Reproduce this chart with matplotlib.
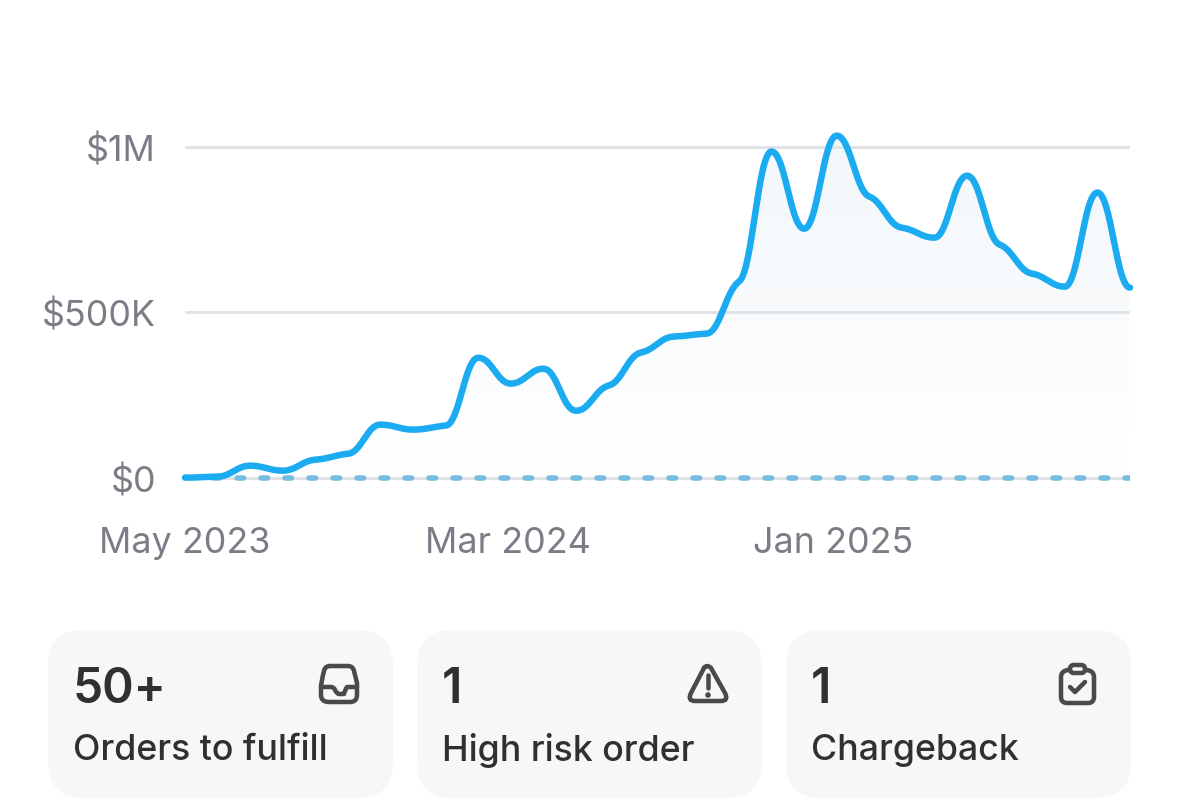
import numpy as np
import matplotlib
matplotlib.use("Agg")
import matplotlib.pyplot as plt
from matplotlib.patches import FancyBboxPatch, PathPatch, Circle
from matplotlib.path import Path
from matplotlib.transforms import ScaledTranslation

# --- data ---
# revenue per month in $K, May 2023 to Oct 2025
revenue = [0, 3, 36, 21, 54, 72, 160, 145, 157, 362,
           284, 329, 202, 278, 378, 426, 435, 592, 985, 752,
           1033, 849, 755, 725, 912, 704, 616, 577, 861, 574]
y_ticks = [0, 500, 1000]
y_labels = ["$0", "$500K", "$1M"]
x_ticks = [0, 10, 20]
x_labels = ["May 2023", "Mar 2024", "Jan 2025"]
card_values = ["50+", "1", "1"]
card_names = ["Orders to fulfill", "High risk order", "Chargeback"]

W, H = 1179, 812
BLUE = "#1aabf0"
GREY_TEXT = "#7c7c86"
DARK_TEXT = "#303030"
ICON = "#4a4a4a"
PX = 0.72  # one pixel in points at dpi 100

plt.rcParams["font.family"] = ["Inter", "DejaVu Sans"]


def smooth_curve(y, tension=0.3, handle=0.42, per_segment=60):
    """Bezier through the points with damped tangents, wide tops and flat shoulders."""
    y = np.asarray(y, dtype=float)
    delta = np.diff(y)
    m = np.zeros_like(y)
    for i in range(1, len(y) - 1):
        if delta[i - 1] * delta[i] > 0:
            m[i] = tension * 2 * delta[i - 1] * delta[i] / (delta[i - 1] + delta[i])
    xs, ys = [], []
    t = np.linspace(0, 1, per_segment, endpoint=False)
    b0, b1, b2, b3 = (1 - t)**3, 3 * t * (1 - t)**2, 3 * t**2 * (1 - t), t**3
    for i in range(len(y) - 1):
        xs.append(b0 * i + b1 * (i + handle) + b2 * (i + 1 - handle) + b3 * (i + 1))
        ys.append(b0 * y[i] + b1 * (y[i] + m[i] * handle)
                  + b2 * (y[i + 1] - m[i + 1] * handle) + b3 * y[i + 1])
    return np.append(np.concatenate(xs), len(y) - 1), np.append(np.concatenate(ys), y[-1])


def stroke(ax, verts, codes=None, lw=4.5):
    path = Path(verts, codes) if codes else Path(verts)
    ax.add_patch(PathPatch(path, fill=False, edgecolor=ICON, lw=lw * PX,
                           capstyle="round", joinstyle="round"))


def draw_inbox(ax):
    C3, L, M = Path.CURVE3, Path.LINETO, Path.MOVETO
    stroke(ax, [(330, 667), (348, 667), (353, 667), (354, 672), (357, 684), (357, 688),
                (357, 696), (357, 703), (350, 703), (329, 703), (321, 703), (321, 696),
                (321, 688), (321, 684), (324, 672), (325, 667), (330, 667)],
           [M, L, C3, C3, L, C3, L, C3, C3, L, C3, C3, L, C3, L, C3, C3])
    stroke(ax, [(321, 688), (331, 688), (334, 688), (335, 691), (337, 695), (339, 695),
                (341, 695), (344, 695), (345, 691), (347, 688), (357, 688)],
           [M, L, C3, C3, C3, C3, C3, C3, C3, C3, L])


def draw_warning(ax):
    C3, L, M = Path.CURVE3, Path.LINETO, Path.MOVETO
    stroke(ax, [(704, 669), (707, 665), (711, 669), (725, 694), (729, 702), (721, 702),
                (695, 702), (687, 702), (691, 694), (704, 669)],
           [M, C3, C3, L, C3, C3, L, C3, C3, L])
    stroke(ax, [(708, 676), (708, 689)])
    ax.add_patch(Circle((708, 696), 2.8, color=ICON, lw=0))


def draw_clipboard(ax):
    C3, L, M = Path.CURVE3, Path.LINETO, Path.MOVETO
    stroke(ax, [(1068, 671), (1061, 672), (1061, 678), (1061, 698), (1061, 704), (1067, 704),
                (1088, 704), (1094, 704), (1094, 698), (1094, 678), (1094, 672), (1087, 671)],
           [M, C3, C3, L, C3, C3, L, C3, C3, L, C3, C3])
    ax.add_patch(FancyBboxPatch((1070, 666), 15, 8, boxstyle="round,pad=0,rounding_size=4",
                                fill=False, edgecolor=ICON, lw=4.5 * PX))
    stroke(ax, [(1070, 688), (1075, 693), (1085, 683)])


def plot_dashboard():
    fig = plt.figure(figsize=(W / 100, H / 100), dpi=100, facecolor="white")

    # overlay in pixel coordinates for the cards
    bg = fig.add_axes([0, 0, 1, 1])
    bg.set_xlim(0, W)
    bg.set_ylim(H, 0)
    bg.axis("off")

    card_left = [48, 417, 786]
    for left, value, name in zip(card_left, card_values, card_names):
        bg.add_patch(FancyBboxPatch((left, 631), 345, 168,
                                    boxstyle="round,pad=0,rounding_size=36",
                                    facecolor="#f7f7f8", edgecolor="none"))
        bg.text(left + 25, 690, value, fontsize=34.5, fontweight="semibold",
                color=DARK_TEXT, va="center", ha="left")
        bg.text(left + 25, 751, name, fontsize=25.7, fontweight="medium",
                color=DARK_TEXT, va="center", ha="left")
    draw_inbox(bg)
    draw_warning(bg)
    draw_clipboard(bg)

    # chart area, $0 sits at y=478 and $1M at y=147
    top_px, bottom_px = 100, 520
    zero_px = 478.6
    k_per_px = 1000 / 331
    ax = fig.add_axes([185 / W, 1 - bottom_px / H, (1130 - 185) / W, (bottom_px - top_px) / H])
    ax.patch.set_alpha(0)
    for s in ax.spines.values():
        s.set_visible(False)

    xs, ys = smooth_curve(revenue)

    ax.hlines([500, 1000], 0, 29, color="#e2e3e8", lw=3 * PX, zorder=1)
    ax.hlines(0, 0, 29, color="#dfe0e4", lw=3 * PX, zorder=1)

    # fill under the line fades out towards zero
    grad = np.zeros((256, 1, 4))
    grad[..., 0], grad[..., 1], grad[..., 2] = 0.87, 0.92, 0.96
    grad[..., 3] = np.linspace(0.38, 0.0, 256)[:, None]
    im = ax.imshow(grad, extent=(0, 28.95, 0, 1040), origin="upper", aspect="auto", zorder=2)
    area = ax.fill_between(xs, 0, ys, color="none", lw=0)
    im.set_clip_path(area.get_paths()[0], transform=ax.transData)

    # butt dash + round caps of the line = about 12 px, every 24 px
    ax.plot([0.85, 29], [0, 0], color="#74bde0", lw=5.5 * PX, zorder=3,
            linestyle=(0, (6.5 / 5.5, 17.5 / 5.5)), dash_capstyle="round")
    ax.plot(xs, ys, color=BLUE, lw=6.5 * PX, zorder=4, clip_on=False, solid_capstyle="round")

    ax.set_xlim(0, 29)
    ax.set_ylim((zero_px - bottom_px) * k_per_px, (zero_px - top_px) * k_per_px)

    ax.set_yticks(y_ticks, y_labels, fontsize=25.8, color=GREY_TEXT)
    ax.set_xticks(x_ticks, x_labels, fontsize=25.8, color=GREY_TEXT)
    ax.tick_params(axis="y", length=0, pad=29 * PX)
    ax.tick_params(axis="x", length=0, pad=5)
    # the labels sit a little left of their months in the original
    for label, dx in zip(ax.get_xticklabels(), [0, -3, -4]):
        label.set_transform(label.get_transform() + ScaledTranslation(dx / 100, 0, fig.dpi_scale_trans))

    fig.savefig("out.png", dpi=100)
    plt.close(fig)


if __name__ == "__main__":
    plot_dashboard()
